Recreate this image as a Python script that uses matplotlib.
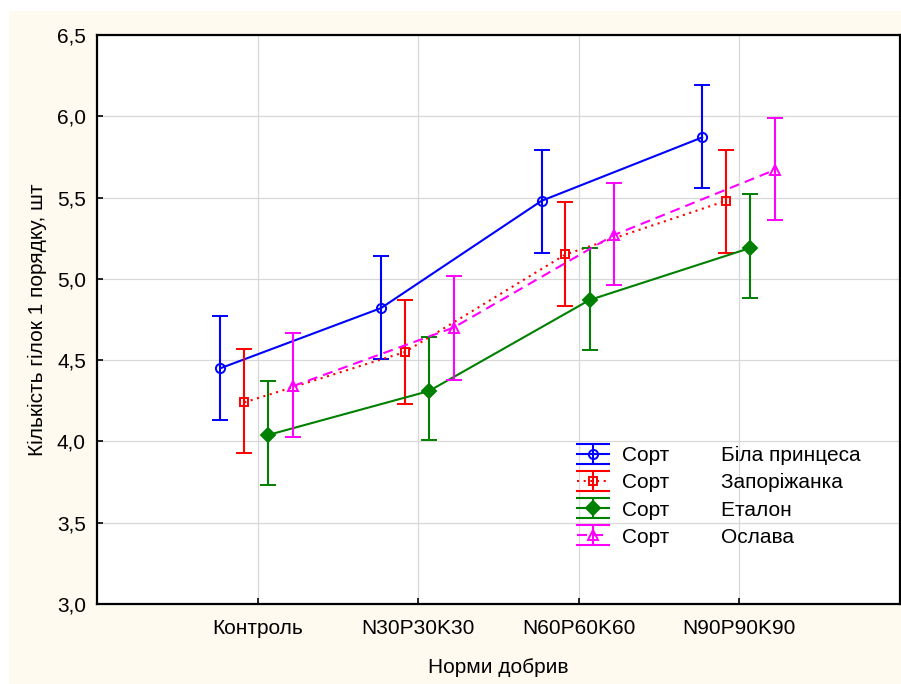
import matplotlib
matplotlib.use("Agg")
import matplotlib.pyplot as plt
import numpy as np
from matplotlib.path import Path
from matplotlib.lines import Line2D
from matplotlib.patches import Rectangle
from matplotlib.ticker import FuncFormatter

# ---- data ----
categories = ['Контроль', 'N30P30K30', 'N60P60K60', 'N90P90K90']
yticks = [3.0, 3.5, 4.0, 4.5, 5.0, 5.5, 6.0, 6.5]

bila_mean = [4.45, 4.82, 5.48, 5.87]
bila_lo = [4.13, 4.51, 5.16, 5.56]
bila_hi = [4.77, 5.14, 5.79, 6.19]

zap_mean = [4.24, 4.55, 5.15, 5.48]
zap_lo = [3.93, 4.23, 4.83, 5.16]
zap_hi = [4.57, 4.87, 5.47, 5.79]

etal_mean = [4.04, 4.31, 4.87, 5.19]
etal_lo = [3.73, 4.01, 4.56, 4.88]
etal_hi = [4.37, 4.64, 5.19, 5.52]

osl_mean = [4.34, 4.70, 5.27, 5.67]
osl_lo = [4.03, 4.38, 4.96, 5.36]
osl_hi = [4.67, 5.02, 5.59, 5.99]

names = ['Біла принцеса', 'Запоріжанка', 'Еталон', 'Ослава']

plt.rcParams['font.family'] = ['Liberation Sans', 'DejaVu Sans']
FS = 15

fig = plt.figure(figsize=(9.01, 6.84), dpi=100)
fig.patch.set_facecolor('white')
fig.add_artist(Rectangle((9/901, 0), 1, 673/684, transform=fig.transFigure,
                         facecolor='#fffaf0', edgecolor='none', zorder=-10))

ax = fig.add_axes([97/901, 1-604/684, 803/901, 569/684])
ax.set_facecolor('white')

x = np.arange(1, len(categories)+1)
offsets = [-0.232, -0.083, 0.067, 0.220]

series = [
    (bila_mean, bila_lo, bila_hi, '#0000ff', '-', 'o', 'none', 6.6),
    (zap_mean, zap_lo, zap_hi, '#ff0000', (0, (1, 2.2)), 's', 'none', 6.2),
    (etal_mean, etal_lo, etal_hi, '#008000', '-', 'D', '#008000', 6.8),
    (osl_mean, osl_lo, osl_hi, '#ff00ff', (0, (4.8, 2.9)), '^', 'none', 6.8),
]

# custom I-beam marker for legend
ib_verts = [(-1.65, 1), (1.65, 1), (-1.65, -1), (1.65, -1), (0, -1), (0, 1)]
ib_codes = [Path.MOVETO, Path.LINETO, Path.MOVETO, Path.LINETO, Path.MOVETO, Path.LINETO]
ibeam = Path(ib_verts, ib_codes)

handles = []
labels = []
for i, (m, lo, hi, c, ls, mk, mfc, ms) in enumerate(series):
    m = np.array(m); lo = np.array(lo); hi = np.array(hi)
    xs = x + offsets[i]
    ax.errorbar(xs, m, yerr=[m-lo, hi-m], color=c, ecolor=c, linestyle=ls,
                linewidth=1.5, marker=mk, mfc=mfc, mec=c, ms=ms, mew=1.4,
                capsize=5.8, capthick=1.5, elinewidth=1.5, zorder=3+i)
    h_err = Line2D([], [], linestyle='none', marker=ibeam, ms=23.8,
                   mec=c, mfc='none', mew=1.5)
    h_ln = Line2D([], [], color=c, linestyle=ls, linewidth=1.5, marker=mk,
                  mfc=mfc, mec=c, ms=ms, mew=1.4)
    handles.append((h_err, h_ln))
    labels.append('Сорт' + ' ' * 9 + names[i])

ax.set_xlim(0, 5)
ax.set_ylim(3.0, 6.5)
ax.set_xticks(x)
ax.set_xticklabels(categories, fontsize=FS)
ax.set_yticks(yticks)
ax.yaxis.set_major_formatter(FuncFormatter(lambda v, p: f'{v:.1f}'.replace('.', ',')))
ax.tick_params(axis='both', direction='in', length=4, width=1.2, labelsize=FS,
               colors='black')
ax.tick_params(axis='y', pad=8)
ax.tick_params(axis='x', pad=11)
ax.grid(True, color='#d8d8d8', linewidth=0.9, zorder=0)
ax.set_axisbelow(True)
for s in ax.spines.values():
    s.set_linewidth(1.6)
    s.set_color('black')

ax.set_xlabel('Норми добрив', fontsize=FS, labelpad=14)
ax.set_ylabel('Кількість гілок 1 порядку, шт', fontsize=FS, labelpad=7)

leg = ax.legend(handles, labels, loc='center left',
                bbox_to_anchor=(577/901, 1-496.5/684), bbox_transform=fig.transFigure,
                frameon=False, fontsize=FS, borderpad=0, borderaxespad=0,
                handlelength=1.53, handletextpad=0.65, labelspacing=0.39,
                numpoints=1)
leg.set_zorder(20)

fig.savefig('out.png', dpi=100, facecolor=fig.get_facecolor())
